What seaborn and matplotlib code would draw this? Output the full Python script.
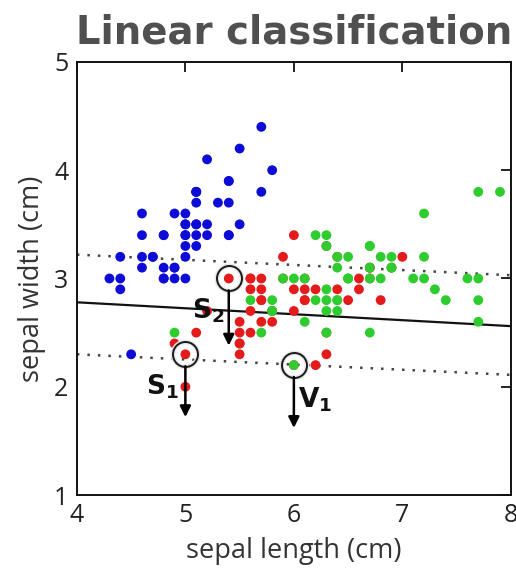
import matplotlib
matplotlib.use("Agg")
import matplotlib.pyplot as plt
import seaborn as sns
import pandas as pd

# --- data (iris sepal measurements as seen in the chart) ---
setosa_len = [5.1,4.9,4.7,4.6,5.0,5.4,4.6,5.0,4.4,4.9,5.4,4.8,4.8,4.3,5.8,5.7,5.4,5.1,5.7,5.1,
              5.4,5.1,4.6,5.1,4.8,5.0,5.0,5.2,5.2,4.7,4.8,5.4,5.2,5.5,4.9,5.0,5.5,4.9,4.4,5.1,
              5.0,4.5,4.4,5.0,5.1,4.8,5.1,4.6,5.3,5.0]
setosa_wid = [3.5,3.0,3.2,3.1,3.6,3.9,3.4,3.4,2.9,3.1,3.7,3.4,3.0,3.0,4.0,4.4,3.9,3.5,3.8,3.8,
              3.4,3.7,3.6,3.3,3.4,3.0,3.4,3.5,3.4,3.2,3.1,3.4,4.1,4.2,3.1,3.2,3.5,3.6,3.0,3.4,
              3.5,2.3,3.2,3.5,3.8,3.0,3.8,3.2,3.7,3.3]
versi_len = [7.0,6.4,6.9,5.5,6.5,5.7,6.3,4.9,6.6,5.2,5.0,5.9,6.0,6.1,5.6,6.7,5.6,5.8,6.2,5.6,
             5.9,6.1,6.3,6.1,6.4,6.6,6.8,6.7,6.0,5.7,5.5,5.5,5.8,6.0,5.4,6.0,6.7,6.3,5.6,5.5,
             5.5,6.1,5.8,5.0,5.6,5.7,5.7,6.2,5.1,5.7]
versi_wid = [3.2,3.2,3.1,2.3,2.8,2.8,3.3,2.4,2.9,2.7,2.0,3.0,2.2,2.9,2.9,3.1,3.0,2.7,2.2,2.5,
             3.2,2.8,2.5,2.8,2.9,3.0,2.8,3.0,2.9,2.6,2.4,2.4,2.7,2.7,3.0,3.4,3.1,2.3,3.0,2.5,
             2.6,3.0,2.6,2.3,2.7,3.0,2.9,2.9,2.5,2.8]
virg_len = [6.3,5.8,7.1,6.3,6.5,7.6,4.9,7.3,6.7,7.2,6.5,6.4,6.8,5.7,5.8,6.4,6.5,7.7,7.7,6.0,
            6.9,5.6,7.7,6.3,6.7,7.2,6.2,6.1,6.4,7.2,7.4,7.9,6.4,6.3,6.1,7.7,6.3,6.4,6.0,6.9,
            6.7,6.9,5.8,6.8,6.7,6.7,6.3,6.5,6.2,5.9]
virg_wid = [3.3,2.7,3.0,2.9,3.0,3.0,2.5,2.9,2.5,3.6,3.2,2.7,3.0,2.5,2.8,3.2,3.0,3.8,2.6,2.2,
            3.2,2.8,2.8,2.7,3.3,3.2,2.8,3.0,2.8,3.0,2.8,3.8,2.8,2.8,2.6,3.0,3.4,3.1,3.0,3.1,
            3.1,3.1,2.7,3.2,3.3,3.0,2.5,3.0,3.4,3.0]

species = ["setosa", "versicolor", "virginica"]
colors = {"setosa": "#0c0cd6", "versicolor": "#e41b1b", "virginica": "#2fcc2f"}

# decision boundary and margins (x endpoints, y endpoints)
line_x = [4, 8]
boundary_y = [2.78, 2.56]
upper_margin_y = [3.22, 3.03]
lower_margin_y = [2.30, 2.11]

# support vectors: label, x, y, arrow end y, label position
sv_names = ["S_1", "S_2", "V_1"]
sv_x = [5.0, 5.4, 6.0]
sv_y = [2.3, 3.0, 2.2]
sv_arrow_end = [1.72, 2.38, 1.62]
sv_label_x = [4.79, 5.21, 6.20]
sv_label_y = [2.00, 2.70, 1.88]

xticks = [4, 5, 6, 7, 8]
yticks = [1, 2, 3, 4, 5]

df = pd.DataFrame({
    "sepal length (cm)": setosa_len + versi_len + virg_len,
    "sepal width (cm)": setosa_wid + versi_wid + virg_wid,
    "species": ["setosa"] * len(setosa_len) + ["versicolor"] * len(versi_len) + ["virginica"] * len(virg_len),
})

sns.set_style("white")
plt.rcParams["font.family"] = ["Open Sans", "DejaVu Sans"]
plt.rcParams["mathtext.fontset"] = "dejavusans"

fig = plt.figure(figsize=(5.16, 5.73), dpi=100)
ax = fig.add_axes([0.149, 0.136, 0.841, 0.756])

sns.scatterplot(data=df, x="sepal length (cm)", y="sepal width (cm)", hue="species",
                palette=colors, hue_order=species, s=50, linewidth=0, legend=False, ax=ax, zorder=3)

ax.plot(line_x, boundary_y, color="#111111", lw=1.6, zorder=2)
ax.plot(line_x, upper_margin_y, color="#444444", lw=1.8, ls=(0, (1, 3.2)), zorder=2)
ax.plot(line_x, lower_margin_y, color="#444444", lw=1.8, ls=(0, (1, 3.2)), zorder=2)

for name, x, y, ye, lx, ly in zip(sv_names, sv_x, sv_y, sv_arrow_end, sv_label_x, sv_label_y):
    ax.plot([x], [y], marker="o", ms=18, mfc="none", mec="#e8e8e8", mew=3.5, zorder=4)
    ax.plot([x], [y], marker="o", ms=18, mfc="none", mec="#1a1a1a", mew=1.4, zorder=5)
    ax.annotate("", xy=(x, ye), xytext=(x, y - 0.11),
                arrowprops=dict(arrowstyle="-|>", color="black", lw=1.8, mutation_scale=16,
                                shrinkA=0, shrinkB=0), zorder=6)
    ax.text(lx, ly, r"$\mathbf{%s}$" % name, fontsize=19, ha="center", va="center",
            color="#111111", zorder=6)

ax.set_xlim(4, 8)
ax.set_ylim(1, 5)
ax.set_xticks(xticks)
ax.set_yticks(yticks)
ax.tick_params(direction="in", length=7, width=1.3, top=True, right=True,
               labelsize=18, pad=6, colors="#111111")
ax.tick_params(axis="both", labelcolor="#222222")
for s in ax.spines.values():
    s.set_color("#111111")
    s.set_linewidth(1.4)

ax.set_xlabel("sepal length (cm)", fontsize=19.5, color="#333333", labelpad=6)
ax.set_ylabel("sepal width (cm)", fontsize=19.5, color="#333333", labelpad=6)
ax.set_title("Linear classification", fontsize=27.8, fontweight="bold", color="#505050",
             family="DejaVu Sans", pad=13)

fig.savefig("out.png", dpi=100)
